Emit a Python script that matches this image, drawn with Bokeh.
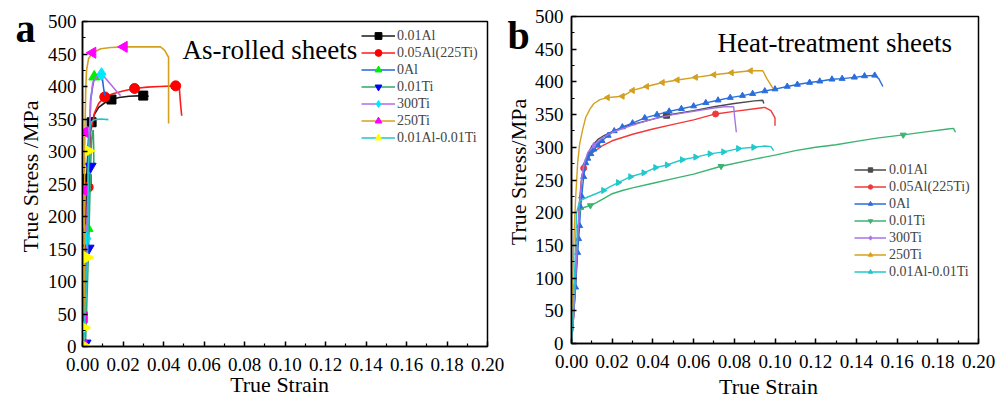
import math
from bokeh.plotting import figure
from bokeh.layouts import row
from bokeh.models import Range1d, FixedTicker, PrintfTickFormatter, Label
from bokeh.core.properties import value
from bokeh.embed import file_html
from bokeh.resources import INLINE

FONT = "Liberation Serif"

SERIES = ["0.01Al", "0.05Al(225Ti)", "0Al", "0.01Ti", "300Ti", "250Ti", "0.01Al-0.01Ti"]

X_TICKS = [0.00, 0.02, 0.04, 0.06, 0.08, 0.10, 0.12, 0.14, 0.16, 0.18, 0.20]
X_MINOR = [0.01, 0.03, 0.05, 0.07, 0.09, 0.11, 0.13, 0.15, 0.17, 0.19]
Y_TICKS = [0, 50, 100, 150, 200, 250, 300, 350, 400, 450, 500]
Y_MINOR = [25, 75, 125, 175, 225, 275, 325, 375, 425, 475]

# ---------------- panel a : as-rolled sheets ----------------
a_001al_strain = [0, 0.0008, 0.0015, 0.002, 0.003, 0.0045, 0.006, 0.008, 0.011, 0.0143, 0.018, 0.023, 0.030, 0.0327]
a_001al_stress = [0, 60, 150, 258, 320, 345, 358, 368, 375, 380, 383, 385, 386, 385]
a_001al_mk_strain = [0.002, 0.0045, 0.0143, 0.030]
a_001al_mk_stress = [258, 345, 380, 386]

a_005al_strain = [0, 0.001, 0.002, 0.0028, 0.004, 0.006, 0.008, 0.011, 0.015, 0.020, 0.0257, 0.032, 0.038, 0.046, 0.0478, 0.048, 0.0485, 0.049]
a_005al_stress = [0, 80, 180, 245, 330, 360, 374, 384, 389, 393, 397, 399, 400, 401, 399, 390, 370, 355]
a_005al_mk_strain = [0.0028, 0.011, 0.0257, 0.046]
a_005al_mk_stress = [245, 384, 397, 401]

a_0al_strain = [0, 0.001, 0.002, 0.0025, 0.003, 0.004, 0.0058, 0.0075, 0.009, 0.0097, 0.0103, 0.011]
a_0al_stress = [0, 60, 140, 182, 260, 380, 415, 419, 421, 416, 400, 386]
a_0al_mk_strain = [0.0025, 0.0058]
a_0al_mk_stress = [182, 415]

a_001ti_strain = [0, 0.0015, 0.003, 0.004, 0.0045, 0.005, 0.0053, 0.0055, 0.0056]
a_001ti_stress = [0, 5, 151, 277, 318, 330, 333, 310, 278]
a_001ti_mk_strain = [0.0015, 0.003, 0.004]
a_001ti_mk_stress = [5, 151, 277]

a_300ti_strain = [0, 0.001, 0.002, 0.003, 0.004, 0.005, 0.007, 0.0094, 0.011, 0.014, 0.017, 0.0188]
a_300ti_stress = [0, 70, 166, 290, 375, 405, 415, 419, 414, 403, 392, 386]
a_300ti_mk_strain = [0.002, 0.0094]
a_300ti_mk_stress = [166, 419]

a_250ti_strain = [0, 0.0005, 0.0008, 0.001, 0.0012, 0.0016, 0.002, 0.003, 0.005, 0.009, 0.014, 0.0205, 0.030, 0.0385, 0.0405, 0.0425, 0.0425]
a_250ti_stress = [0, 2, 45, 240, 330, 395, 425, 443, 452, 458, 460, 461, 461, 461, 456, 445, 343]
a_250ti_mk_strain = [0.0005, 0.0008, 0.001, 0.0012, 0.005, 0.0205]
a_250ti_mk_stress = [2, 45, 240, 330, 452, 461]

a_alti_strain = [0, 0.0005, 0.001, 0.0025, 0.003, 0.0035, 0.0045, 0.006, 0.009, 0.0128]
a_alti_stress = [0, 2, 29, 137, 301, 335, 346, 349, 350, 349]
a_alti_mk_strain = [0.0005, 0.001, 0.0025, 0.003]
a_alti_mk_stress = [2, 29, 137, 301]

# ---------------- panel b : heat-treatment sheets ----------------
b_001al_strain = [0, 0.001, 0.002, 0.003, 0.004, 0.005, 0.006, 0.008, 0.01, 0.013, 0.016, 0.02, 0.025, 0.03, 0.04, 0.0467, 0.06, 0.07, 0.08, 0.09, 0.094, 0.0945]
b_001al_stress = [0, 40, 90, 150, 210, 250, 270, 290, 302, 312, 318, 324, 330, 335, 343, 349, 356, 362, 367, 371, 372, 367]
b_001al_mk_strain = [0.0467]
b_001al_mk_stress = [349]

b_005al_strain = [0, 0.001, 0.002, 0.003, 0.004, 0.005, 0.006, 0.008, 0.01, 0.015, 0.02, 0.03, 0.04, 0.05, 0.06, 0.0708, 0.08, 0.09, 0.095, 0.098, 0.1, 0.1]
b_005al_stress = [0, 40, 100, 160, 220, 255, 268, 283, 291, 302, 310, 320, 328, 335, 342, 351, 355, 359, 361, 356, 345, 333]
b_005al_mk_strain = [0.006, 0.0708]
b_005al_mk_stress = [268, 351]

b_0al_strain = [0, 0.001, 0.002, 0.003, 0.0035, 0.004, 0.0045, 0.005, 0.006, 0.007, 0.008, 0.0095, 0.011, 0.013, 0.015, 0.018, 0.021,
                0.025, 0.030, 0.036, 0.042, 0.048, 0.054, 0.060, 0.066, 0.072, 0.078, 0.084, 0.089, 0.095, 0.100, 0.106,
                0.111, 0.117, 0.122, 0.128, 0.133, 0.139, 0.144, 0.149, 0.151, 0.153]
b_0al_stress = [0, 40, 86, 139, 160, 180, 208, 225, 255, 276, 283, 290, 297, 303, 310, 318, 325,
                331, 337, 345, 350, 355, 359, 363, 368, 372, 376, 379, 382, 386, 389, 393,
                396, 399, 401, 404, 405, 407, 409, 410, 405, 393]
b_0al_mk_strain = [0.002, 0.003, 0.0035, 0.004, 0.0045, 0.005, 0.006, 0.007, 0.008, 0.0095, 0.011, 0.013, 0.015, 0.018, 0.021,
                   0.025, 0.030, 0.036, 0.042, 0.048, 0.054, 0.060, 0.066, 0.072, 0.078, 0.084, 0.089, 0.095, 0.100, 0.106,
                   0.111, 0.117, 0.122, 0.128, 0.133, 0.139, 0.144, 0.149]
b_0al_mk_stress = [86, 139, 160, 180, 208, 225, 255, 276, 283, 290, 297, 303, 310, 318, 325,
                   331, 337, 345, 350, 355, 359, 363, 368, 372, 376, 379, 382, 386, 389, 393,
                   396, 399, 401, 404, 405, 407, 409, 410]

b_001ti_strain = [0, 0.001, 0.002, 0.003, 0.004, 0.0045, 0.006, 0.0093, 0.012, 0.016, 0.02, 0.025, 0.03, 0.04, 0.05, 0.06, 0.0735,
                  0.09, 0.1, 0.11, 0.12, 0.13, 0.14, 0.15, 0.163, 0.175, 0.185, 0.1877, 0.1887]
b_001ti_stress = [0, 50, 110, 165, 200, 205, 208, 211, 215, 222, 229, 234, 238, 245, 252, 259, 271,
                  282, 288, 295, 300, 304, 309, 314, 319, 324, 328, 329, 323]
b_001ti_mk_strain = [0.0093, 0.0735, 0.163]
b_001ti_mk_stress = [211, 271, 319]

b_300ti_strain = [0, 0.001, 0.002, 0.003, 0.004, 0.005, 0.006, 0.008, 0.011, 0.015, 0.02, 0.03, 0.04, 0.05, 0.06, 0.07, 0.075, 0.0797, 0.0802, 0.081]
b_300ti_stress = [0, 45, 100, 160, 215, 252, 272, 292, 303, 314, 323, 334, 343, 350, 355, 360, 362, 362, 345, 323]
b_300ti_mk_strain = [0.011]
b_300ti_mk_stress = [303]

b_250ti_strain = [0, 0.0005, 0.001, 0.0015, 0.002, 0.003, 0.004, 0.0054, 0.007, 0.009, 0.011, 0.014, 0.0177, 0.021, 0.025, 0.030,
                  0.037, 0.0447, 0.052, 0.061, 0.070, 0.0786, 0.088, 0.094, 0.096, 0.099]
b_250ti_stress = [0, 86, 140, 185, 220, 275, 305, 326, 346, 358, 367, 373, 376, 377, 378, 387,
                  393, 399, 403, 407, 411, 414, 417, 417, 405, 390]
b_250ti_mk_strain = [0.0005, 0.0177, 0.025, 0.030, 0.037, 0.0447, 0.052, 0.061, 0.070, 0.0786, 0.088]
b_250ti_mk_stress = [86, 376, 378, 387, 393, 399, 403, 407, 411, 414, 417]

b_alti_strain = [0, 0.001, 0.002, 0.0025, 0.004, 0.008, 0.012, 0.0157, 0.019, 0.023, 0.029, 0.0355, 0.0413, 0.047, 0.0544, 0.061,
                 0.068, 0.0747, 0.082, 0.0895, 0.095, 0.098, 0.0993]
b_alti_stress = [0, 60, 150, 200, 218, 224, 229, 234, 240, 246, 255, 261, 269, 273, 281, 285,
                 290, 293, 298, 300, 302, 301, 295]
b_alti_mk_strain = [0.0157, 0.023, 0.029, 0.0355, 0.0413, 0.047, 0.0544, 0.061, 0.068, 0.0747, 0.082, 0.0895]
b_alti_mk_stress = [234, 246, 255, 261, 269, 273, 281, 285, 290, 293, 298, 300]

A_DATA = [
    (a_001al_strain, a_001al_stress, a_001al_mk_strain, a_001al_mk_stress),
    (a_005al_strain, a_005al_stress, a_005al_mk_strain, a_005al_mk_stress),
    (a_0al_strain, a_0al_stress, a_0al_mk_strain, a_0al_mk_stress),
    (a_001ti_strain, a_001ti_stress, a_001ti_mk_strain, a_001ti_mk_stress),
    (a_300ti_strain, a_300ti_stress, a_300ti_mk_strain, a_300ti_mk_stress),
    (a_250ti_strain, a_250ti_stress, a_250ti_mk_strain, a_250ti_mk_stress),
    (a_alti_strain, a_alti_stress, a_alti_mk_strain, a_alti_mk_stress),
]
B_DATA = [
    (b_001al_strain, b_001al_stress, b_001al_mk_strain, b_001al_mk_stress),
    (b_005al_strain, b_005al_stress, b_005al_mk_strain, b_005al_mk_stress),
    (b_0al_strain, b_0al_stress, b_0al_mk_strain, b_0al_mk_stress),
    (b_001ti_strain, b_001ti_stress, b_001ti_mk_strain, b_001ti_mk_stress),
    (b_300ti_strain, b_300ti_stress, b_300ti_mk_strain, b_300ti_mk_stress),
    (b_250ti_strain, b_250ti_stress, b_250ti_mk_strain, b_250ti_mk_stress),
    (b_alti_strain, b_alti_stress, b_alti_mk_strain, b_alti_mk_stress),
]

# styles
A_LINE = ["#1a1a1a", "#ff1a1a", "#2266dd", "#2fa86a", "#b36be6", "#d4a020", "#22c4cc"]
A_MARK = ["#000000", "#ff0000", "#00ee00", "#0000ff", "#00e8ff", "#ff00ff", "#ffff00"]
A_SHAPE = ["square", "circle", "triangle", "inverted_triangle", "diamond", "triangle", "triangle"]
A_ANGLE = [0, 0, 0, 0, 0, math.pi / 2, -math.pi / 2]
A_SIZE = [9, 10, 11, 11, 13, 11, 11]

B_LINE = ["#4a4a4a", "#f03a3a", "#2a6edb", "#3cb371", "#a774e8", "#d4a020", "#22c8cc"]
B_SIZE = [6, 6, 6, 6, 6, 6, 6]


def make_fig(w, h, bl, br, bt, bb, ytick_standoff):
    p = figure(width=w, height=h, x_range=Range1d(0, 0.2), y_range=Range1d(0, 500),
               output_backend="svg", toolbar_location=None, title=None,
               min_border_left=bl, min_border_right=br, min_border_top=bt, min_border_bottom=bb)
    if "frame_align" in p.properties():
        p.frame_align = False
    p.xgrid.visible = False
    p.ygrid.visible = False
    p.outline_line_color = "black"
    p.outline_line_width = 1.5
    p.background_fill_color = "white"
    p.border_fill_color = "white"
    for ax in (p.xaxis[0], p.yaxis[0]):
        ax.major_tick_in = 5
        ax.major_tick_out = 0
        ax.minor_tick_in = 3
        ax.minor_tick_out = 0
        ax.axis_line_width = 1.5
        ax.axis_line_color = "black"
        ax.major_tick_line_width = 1.5
        ax.minor_tick_line_width = 1.2
        ax.major_tick_line_color = "black"
        ax.minor_tick_line_color = "black"
        ax.major_label_text_font = FONT
        ax.major_label_text_font_size = "19px"
        ax.major_label_text_color = "black"
    p.xaxis[0].ticker = FixedTicker(ticks=X_TICKS, minor_ticks=X_MINOR)
    p.xaxis[0].formatter = PrintfTickFormatter(format="%.2f")
    p.xaxis[0].major_label_standoff = 11
    p.yaxis[0].ticker = FixedTicker(ticks=Y_TICKS, minor_ticks=Y_MINOR)
    p.yaxis[0].major_label_standoff = ytick_standoff
    return p


def add_label(p, x, y, text, size):
    p.add_layout(Label(x=x, y=y, text=text, text_font=FONT, text_font_size=size,
                       text_line_height=1.0,
                       text_align="left", text_baseline="alphabetic", text_color="black"))


def add_outer_text(p, x, y, text, size, angle=0.0, align="left", bold=False):
    # text outside the frame (panel letters, axis titles), drawn on the overlay level
    p.text(x=[x], y=[y], text=[text], text_font=value(FONT), text_font_size=value(size),
           text_font_style="bold" if bold else "normal", angle=angle, text_line_height=1.0,
           text_align=align, text_baseline="alphabetic", text_color="black", level="overlay")


def style_legend(p, loc, glyph_w, glyph_h, standoff):
    lg = p.legend[0]
    lg.location = loc
    lg.margin = 0
    lg.padding = 2
    lg.spacing = 0
    lg.glyph_width = glyph_w
    lg.glyph_height = glyph_h
    lg.label_height = 17
    lg.label_standoff = standoff
    lg.label_text_font = FONT
    lg.label_text_font_size = "14px"
    lg.border_line_color = None
    lg.background_fill_alpha = 0


# ---- panel a
pa = make_fig(506, 398, 82, 19, 21, 52, 6)
for i, name in enumerate(SERIES):
    sx, sy, mx, my = A_DATA[i]
    pa.line(sx, sy, line_color=A_LINE[i], line_width=1.6, legend_label=name)
    pa.scatter(mx, my, marker=A_SHAPE[i], angle=A_ANGLE[i], size=A_SIZE[i],
               fill_color=A_MARK[i], line_color=A_MARK[i], legend_label=name)
style_legend(pa, (279, 200), 34, 17, 2)
add_label(pa, 0.0494, 456.0, "As-rolled sheets", "27px")
add_outer_text(pa, -0.0331, 488.5, "a", "40px", bold=True)
add_outer_text(pa, 0.0973, -59.0, "True Strain", "22px", align="center")
add_outer_text(pa, -0.0259, 261.5, "True Stress /MPa", "22px", angle=math.pi / 2, align="center")

# ---- panel b
pb = make_fig(498, 398, 65, 26, 16, 55, 8)
for i, name in enumerate(SERIES):
    sx, sy, mx, my = B_DATA[i]
    pb.line(sx, sy, line_color=B_LINE[i], line_width=1.4, legend_label=name)
    pb.scatter(mx, my, marker=A_SHAPE[i], angle=A_ANGLE[i], size=B_SIZE[i],
               fill_color=B_LINE[i], line_color=B_LINE[i], legend_label=name)
style_legend(pb, (283, 63), 32, 11, 3)
add_label(pb, 0.0717, 459.3, "Heat-treatment sheets", "27px")
add_outer_text(pb, -0.03145, 471.0, "b", "40px", bold=True)
add_outer_text(pb, 0.0968, -66.0, "True Strain", "22px", align="center")
add_outer_text(pb, -0.0260, 262.2, "True Stress/MPa", "22px", angle=math.pi / 2, align="center")

layout = row(pa, pb, spacing=0)
open("out.html", "w").write(file_html(layout, INLINE))
